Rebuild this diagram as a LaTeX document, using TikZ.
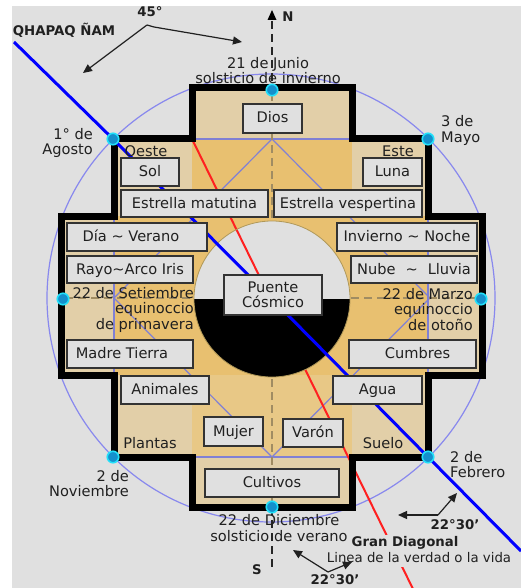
\documentclass[tikz,border=0pt]{standalone}
\usepackage{fontspec}
\setmainfont{DejaVu Sans}
\usetikzlibrary{arrows.meta}
\definecolor{bgg}{HTML}{E0E0E0}
\definecolor{ltan}{HTML}{E2CFA8}
\definecolor{gold}{HTML}{E8C886}
\definecolor{goldd}{HTML}{E8C070}
\definecolor{purp}{HTML}{8888EE}
\definecolor{dpurp}{HTML}{8080D4}
\definecolor{dtan}{HTML}{A08C62}
\definecolor{txt}{HTML}{202020}
\definecolor{ptfill}{HTML}{1590CC}
\definecolor{ptring}{HTML}{22E0FA}
\definecolor{redl}{HTML}{FF2020}
\definecolor{rim}{HTML}{B09858}
\tikzset{
  box/.style={draw=black!80, line width=1.3pt, fill=bgg, inner sep=0pt, text=txt,
    font=\fontsize{14.6}{15.5}\selectfont},
  onel/.style={text height=11pt, text depth=2pt},
  lbl/.style={inner sep=0pt, text=txt, font=\fontsize{14.6}{15.5}\selectfont},
  blbl/.style={inner sep=0pt, text=txt, font=\bfseries\fontsize{13.3}{15}\selectfont},
  smlbl/.style={inner sep=0pt, text=txt, font=\fontsize{13.3}{15}\selectfont},
  pt/.style={circle, fill=ptfill, draw=ptring, line width=1.6pt, minimum size=11.5pt, inner sep=0pt},
  angarrow/.style={draw=txt, line width=1.2pt, -{Triangle[length=9pt,width=8pt]}},
  purpline/.style={draw=dpurp, line width=1.2pt},
  tandash/.style={draw=dtan, line width=2pt, dash pattern=on 8pt off 5pt},
  blkdash/.style={draw=black!85, line width=1.5pt, dash pattern=on 8pt off 5pt},
}
\begin{document}
\begin{tikzpicture}[x=1pt,y=-1pt]
\useasboundingbox (0,0) rectangle (521,588);
\fill[white] (0,0) rectangle (521,588);
\fill[bgg] (12,6) rectangle (521,588);

% named positions
\coordinate (cJun) at (272,90);
\coordinate (cMay) at (428,139);
\coordinate (cAgo) at (113,139);
\coordinate (cSet) at (63,299);
\coordinate (cMar) at (481,299);
\coordinate (cNov) at (113,457);
\coordinate (cFeb) at (428,457);
\coordinate (cDic) at (272,507);
\coordinate (ctr) at (272,299);

% big circle
\draw[purp, line width=1.2pt] (271,298) circle[radius=224];

% cross fill
\fill[ltan] (192,88) -- (352,88) -- (352,139) -- (428,139) -- (428,216) -- (482,216) -- (482,375) -- (428,375) -- (428,457) -- (352,457) -- (352,507) -- (192,507) -- (192,457) -- (114,457) -- (114,375) -- (61,375) -- (61,216) -- (114,216) -- (114,139) -- (192,139) -- cycle;
\fill[gold] (192,139) rectangle (352,457);
\fill[goldd] (114,216) rectangle (428,375);
\fill[goldd] (192,139) rectangle (352,216);

% purple guide lines
\draw[purpline] (192,139) -- (352,139) (192,457) -- (352,457) (114,216) -- (114,375) (428,216) -- (428,375);
\draw[purpline] (272,139) -- (430,298) -- (272,457) -- (114,298) -- cycle;

% tan dashed axes
\draw[tandash] (272,93) -- (272,504);
\draw[tandash] (65,298) -- (479,298);

% central disc, upper half
\fill[bgg] (194,299) arc[start angle=180, end angle=360, radius=78] -- cycle;

% gran diagonal
\coordinate (rs) at (192,139);
\coordinate (re) at (414,591);
\draw[redl, line width=2pt] (rs) -- (re);

% central disc, lower half
\fill[black] (350,299) arc[start angle=0, end angle=180, radius=78] -- cycle;
\draw[rim, line width=0.8pt] (ctr) circle[radius=78];

% cross outline
\draw[black, line width=7pt, line join=miter] (192,88) -- (352,88) -- (352,139) -- (428,139) -- (428,216) -- (482,216) -- (482,375) -- (428,375) -- (428,457) -- (352,457) -- (352,507) -- (192,507) -- (192,457) -- (114,457) -- (114,375) -- (61,375) -- (61,216) -- (114,216) -- (114,139) -- (192,139) -- cycle;

% north-south axis outside
\coordinate (ntop) at (272,21);
\coordinate (sbot) at (272,570);
\draw[blkdash] (ntop) -- (cJun);
\draw[blkdash] (cDic) -- (sbot);
\fill[black] (272,10) -- (276.5,20) -- (267.5,20) -- cycle;

% qhapaq nam
\coordinate (qs) at (14,42);
\coordinate (qe) at (521,551);
\draw[blue, line width=3pt] (qs) -- (cAgo) -- (ctr) -- (cFeb) -- (qe);

% boxes
\node[box, onel, minimum width=59, minimum height=29] (dios) at (272.5,118.5) {Dios};
\node[box, onel, minimum width=58, minimum height=28] (sol) at (150,172) {Sol};
\node[box, onel, minimum width=59, minimum height=28] (luna) at (392.5,172) {Luna};
\node[box, onel, minimum width=147, minimum height=27] (emat) at (194.5,203.5) {Estrella matutina};
\node[box, onel, minimum width=148, minimum height=27] (eves) at (348,203.5) {Estrella vespertina};
\node[box, onel, minimum width=140, minimum height=28] (dia) at (137,237) {D\'ia \textasciitilde{} Verano\hspace*{12pt}};
\node[box, onel, minimum width=126, minimum height=27] (rayo) at (130,269.5) {Rayo\textasciitilde Arco Iris};
\node[box, onel, minimum width=140, minimum height=28] (inv) at (407,237) {Invierno \textasciitilde{} Noche};
\node[box, onel, minimum width=126, minimum height=27] (nube) at (414,269.5) {Nube\hspace{10pt}\textasciitilde\hspace{10pt}Lluvia};
\node[box, onel, minimum width=126, minimum height=28] (madre) at (130,354) {Madre Tierra\hspace*{16pt}};
\node[box, onel, minimum width=127, minimum height=28] (cumb) at (412.5,354) {\hspace*{10pt}Cumbres};
\node[box, onel, minimum width=88, minimum height=28] (anim) at (165,390) {Animales};
\node[box, onel, minimum width=89, minimum height=28] (agua) at (377.5,390) {Agua};
\node[box, onel, minimum width=59, minimum height=29] (mujer) at (233.5,431.5) {Mujer};
\node[box, onel, minimum width=60, minimum height=28] (varon) at (313,433) {Var\'on};
\node[box, onel, minimum width=134, minimum height=28] (cult) at (272,483) {Cultivos};
\node[box, align=center, minimum width=98, minimum height=40] (puente) at (273,295) {Puente\\C\'osmico};

% calendar points
\node[pt] (pJun) at (cJun) {};
\node[pt] (pMay) at (cMay) {};
\node[pt] (pAgo) at (cAgo) {};
\node[pt] (pSet) at (cSet) {};
\node[pt] (pMar) at (cMar) {};
\node[pt] (pNov) at (cNov) {};
\node[pt] (pFeb) at (cFeb) {};
\node[pt] (pDic) at (cDic) {};

% labels
\node[blbl] (qlab) at (64,30) {QHAPAQ ÑAM};
\node[blbl] (l45) at (150,12) {45°};
\node[blbl] (nlab) at (288,17) {N};
\node[blbl] (slab) at (257,570) {S};
\node[lbl, align=center] (ljun) at (268,70.5) {21 de Junio\\solsticio de invierno};
\node[lbl, align=center] (ldic) at (279,528) {22 de Diciembre\\solsticio de verano};
\node[lbl, align=right, anchor=east] (lago) at (93,143) {1° de\\Agosto};
\node[lbl, align=left, anchor=west] (lmay) at (441,130.5) {3 de\\Mayo};
\node[lbl, align=right, anchor=east] (lset) at (194,309.5) {22 de Setiembre\\equinoccio\\de primavera};
\node[lbl, align=right, anchor=east] (lmar) at (473,309.5) {22 de Marzo\\equinoccio\\de oto\~no};
\node[lbl, align=right, anchor=east] (lnov) at (129,483.5) {2 de\\Noviembre};
\node[lbl, align=left, anchor=west] (lfeb) at (450,464.5) {2 de\\Febrero};
\node[lbl] (oeste) at (146,151) {Oeste};
\node[lbl] (este) at (398,151) {Este};
\node[lbl] (plantas) at (150,443) {Plantas};
\node[lbl] (suelo) at (383,443) {Suelo};
\node[blbl, fill=bgg, inner sep=1.5pt] (gdiag) at (405,543) {Gran Diagonal};
\node[smlbl, fill=bgg, inner xsep=1pt, inner ysep=4pt] (linea) at (419,558) {Linea de la verdad o la vida};
\node[blbl] (a2lab) at (455,525) {22°30'};
\node[blbl] (a3lab) at (335,580) {22°30'};

% angle arrows
\coordinate (a1v) at (147,25);
\coordinate (a1k) at (154,27);
\coordinate (a1l) at (83,73);
\coordinate (a1r) at (242,42);
\draw[angarrow] (a1v) -- (a1l);
\draw[angarrow] (a1v) -- (a1k) -- (a1r);
\coordinate (a2v) at (438,515);
\coordinate (a2l) at (398,515);
\coordinate (a2r) at (457,493);
\draw[angarrow] (a2v) -- (a2l);
\draw[angarrow] (a2v) -- (a2r);
\coordinate (a3v) at (328,572);
\coordinate (a3l) at (293,550);
\coordinate (a3r) at (352,562);
\draw[angarrow] (a3v) -- (a3l);
\draw[angarrow] (a3v) -- (a3r);
\end{tikzpicture}
\end{document}
